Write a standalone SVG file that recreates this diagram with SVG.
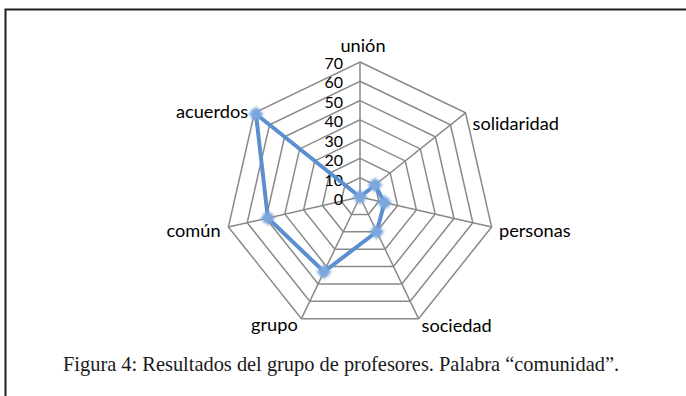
<svg xmlns="http://www.w3.org/2000/svg" width="686" height="396" viewBox="0 0 686 396">
<style>
.grid{fill:none;stroke:#898989;stroke-width:1.5}
.lbl{font-family:Lato,"Liberation Sans",sans-serif;font-size:18.2px;fill:#000}
.tick{font-family:Lato,"Liberation Sans",sans-serif;font-size:16px;fill:#000;text-anchor:end}
.series{fill:none;stroke:#5b8fd0;stroke-width:4;stroke-linejoin:round}
.cap{font-family:"Liberation Serif",serif;font-size:20.4px;fill:#1a1a1a}
</style>
<defs>
<filter id="glow" x="-50%" y="-50%" width="200%" height="200%"><feGaussianBlur stdDeviation="0.9"/></filter>
<g id="mk" filter="url(#glow)"><polygon points="0,-8 2.8,-2.8 8,0 2.8,2.8 0,8 -2.8,2.8 -8,0 -2.8,-2.8" fill="#6a9bd8"/><rect x="-4.8" y="-4.8" width="9.6" height="9.6" fill="#7aa7dd"/></g>
</defs>
<rect width="686" height="396" fill="#fff"/>
<path d="M686,9.5 H5.5 V396" fill="none" stroke="#1e1e1e" stroke-width="2"/>
<g id="grid">
<polygon class="grid" points="360,177.71 375.08,184.98 378.80,201.29 368.37,214.38 351.63,214.38 341.20,201.29 344.92,184.98"/>
<polygon class="grid" points="360,158.43 390.16,172.95 397.60,205.58 376.74,231.75 343.26,231.75 322.40,205.58 329.84,172.95"/>
<polygon class="grid" points="360,139.14 405.23,160.93 416.41,209.87 385.10,249.13 334.90,249.13 303.59,209.87 314.77,160.93"/>
<polygon class="grid" points="360,119.86 420.31,148.90 435.21,214.17 393.47,266.50 326.53,266.50 284.79,214.17 299.69,148.90"/>
<polygon class="grid" points="360,100.57 435.39,136.88 454.01,218.46 401.84,283.88 318.16,283.88 265.99,218.46 284.61,136.88"/>
<polygon class="grid" points="360,81.29 450.47,124.85 472.81,222.75 410.21,301.26 309.79,301.26 247.19,222.75 269.53,124.85"/>
<polygon class="grid" points="360,62 465.55,112.83 491.62,227.04 418.57,318.63 301.43,318.63 228.38,227.04 254.45,112.83"/>
<path class="grid" d="M360,197 L360,62 M360,197 L465.55,112.83 M360,197 L491.62,227.04 M360,197 L418.57,318.63 M360,197 L301.43,318.63 M360,197 L228.38,227.04 M360,197 L254.45,112.83"/>
</g>
<g id="ticks">
<text class="tick" x="343" y="205">0</text>
<text class="tick" x="343" y="185.6">10</text>
<text class="tick" x="343" y="166.1">20</text>
<text class="tick" x="343" y="146.7">30</text>
<text class="tick" x="343" y="127.3">40</text>
<text class="tick" x="343" y="107.8">50</text>
<text class="tick" x="343" y="88.4">60</text>
<text class="tick" x="343" y="69">70</text>
</g>
<g id="axis-labels">
<text id="union" class="lbl" x="363" y="52" text-anchor="middle">unión</text>
<text id="solidaridad" class="lbl" x="472.5" y="129.5">solidaridad</text>
<text id="personas" class="lbl" x="499" y="236.5">personas</text>
<text id="sociedad" class="lbl" x="421.5" y="331.5">sociedad</text>
<text id="grupo" class="lbl" x="251" y="330.5">grupo</text>
<text id="comun" class="lbl" x="166.5" y="236.5">común</text>
<text id="acuerdos" class="lbl" x="176" y="117.5">acuerdos</text>
</g>
<g id="series">
<polygon class="series" points="360,197 375.08,184.98 384.44,202.58 376.74,231.75 324.02,271.72 267.87,218.03 255.96,114.03"/>
<use href="#mk" x="360" y="197"/>
<use href="#mk" x="375.08" y="184.98"/>
<use href="#mk" x="384.44" y="202.58"/>
<use href="#mk" x="376.74" y="231.75"/>
<use href="#mk" x="324.02" y="271.72"/>
<use href="#mk" x="267.87" y="218.03"/>
<use href="#mk" x="255.96" y="114.03"/>
</g>
<text id="caption" class="cap" x="63" y="371">Figura 4: Resultados del grupo de profesores. Palabra “comunidad”.</text>
</svg>
